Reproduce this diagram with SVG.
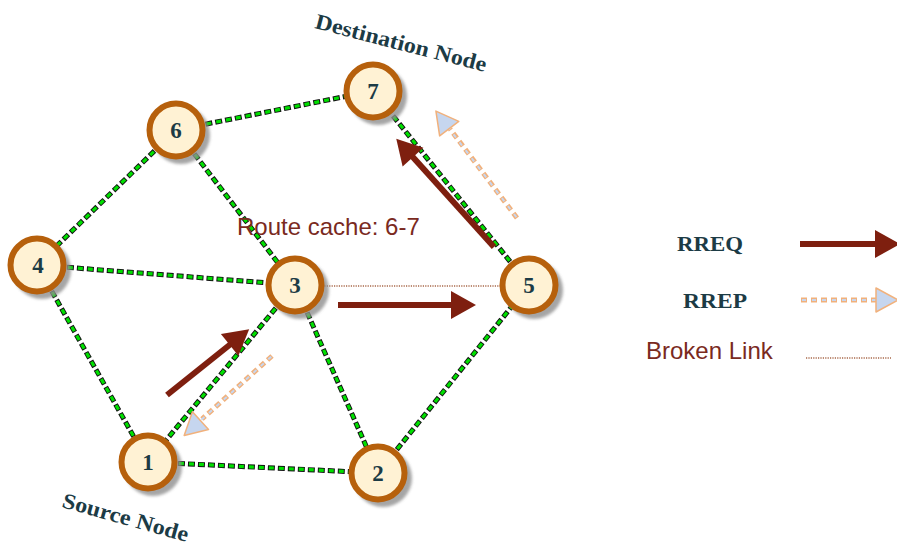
<svg xmlns="http://www.w3.org/2000/svg" width="897" height="546" viewBox="0 0 897 546">
  <style>
    .link-base { stroke: #111; stroke-width: 5; stroke-dasharray: 7 3; fill: none; }
    .link-top { stroke: #00e000; stroke-width: 3.2; stroke-dasharray: 5 5; stroke-dashoffset: -1; fill: none; }
    .broken { stroke: #a8684a; stroke-width: 1.6; stroke-dasharray: 1.2 1.2; fill: none; }
    .rreq { stroke: #7e1f0f; stroke-width: 6; fill: none; marker-end: url(#rreqHead); }
    .rrep-out { stroke: #f1b17c; stroke-width: 5; stroke-dasharray: 6 4; fill: none; }
    .rrep-in { stroke: #c6d6ef; stroke-width: 2; stroke-dasharray: 4 6; stroke-dashoffset: -1; fill: none; marker-end: url(#rrepHead); }
    .ring { fill: #fff2d4; stroke: #b6600c; stroke-width: 6; }
    .shadow { fill: #8f8f8f; opacity: 0.8; filter: url(#soft); }
    .num { font-family: "Liberation Serif", "DejaVu Serif", serif; font-weight: bold; font-size: 23px; fill: #1c3b45; text-anchor: middle; }
    .tag { font-family: "Liberation Serif", "DejaVu Serif", serif; font-weight: bold; font-size: 22px; fill: #1c3b45; }
    .note { font-family: "Liberation Sans", Arial, sans-serif; font-size: 24px; fill: #7a2a1e; }
  </style>
  <defs>
    <filter id="soft" x="-20%" y="-20%" width="140%" height="140%">
      <feGaussianBlur stdDeviation="1.5"/>
    </filter>
    <marker id="rreqHead" markerUnits="userSpaceOnUse" markerWidth="26" markerHeight="30" refX="3" refY="14" orient="auto" overflow="visible">
      <path d="M0,0 L25,14 L0,28 Z" fill="#7e1f0f"/>
    </marker>
    <marker id="rrepHead" markerUnits="userSpaceOnUse" markerWidth="24" markerHeight="26" refX="2" refY="12" orient="auto" overflow="visible">
      <path d="M0,0 L22,12 L0,24 Z" fill="#c6d6ef" stroke="#f1b17c" stroke-width="1.5" stroke-linejoin="round"/>
    </marker>
  </defs>

  <!-- wireless links between nodes -->
  <g id="connectors">
    <g id="links-base">
      <line class="link-base" x1="176" y1="130" x2="373" y2="91"/>
      <line class="link-base" x1="176" y1="130" x2="37" y2="265"/>
      <line class="link-base" x1="176" y1="130" x2="295" y2="285"/>
      <line class="link-base" x1="37" y1="265" x2="295" y2="285"/>
      <line class="link-base" x1="37" y1="265" x2="148" y2="462"/>
      <line class="link-base" x1="295" y1="285" x2="148" y2="462"/>
      <line class="link-base" x1="295" y1="285" x2="378" y2="473"/>
      <line class="link-base" x1="148" y1="462" x2="378" y2="473"/>
      <line class="link-base" x1="378" y1="473" x2="529" y2="285"/>
      <line class="link-base" x1="529" y1="285" x2="373" y2="91"/>
    </g>
    <g id="links-top">
      <line class="link-top" x1="176" y1="130" x2="373" y2="91"/>
      <line class="link-top" x1="176" y1="130" x2="37" y2="265"/>
      <line class="link-top" x1="176" y1="130" x2="295" y2="285"/>
      <line class="link-top" x1="37" y1="265" x2="295" y2="285"/>
      <line class="link-top" x1="37" y1="265" x2="148" y2="462"/>
      <line class="link-top" x1="295" y1="285" x2="148" y2="462"/>
      <line class="link-top" x1="295" y1="285" x2="378" y2="473"/>
      <line class="link-top" x1="148" y1="462" x2="378" y2="473"/>
      <line class="link-top" x1="378" y1="473" x2="529" y2="285"/>
      <line class="link-top" x1="529" y1="285" x2="373" y2="91"/>
    </g>
    <!-- broken link 3-5 -->
    <line class="broken" x1="322" y1="286" x2="502" y2="286"/>
  </g>

  <!-- nodes -->
  <g id="node-7">
    <circle class="shadow" cx="378" cy="96" r="29"/>
    <circle class="ring" cx="373" cy="91" r="26.5"/>
    <text class="num" x="373" y="99">7</text>
  </g>
  <g id="node-6">
    <circle class="shadow" cx="181" cy="135" r="29"/>
    <circle class="ring" cx="176" cy="130" r="26.5"/>
    <text class="num" x="176" y="138">6</text>
  </g>
  <g id="node-4">
    <circle class="shadow" cx="42" cy="270" r="29"/>
    <circle class="ring" cx="37" cy="265" r="26.5"/>
    <text class="num" x="38" y="273">4</text>
  </g>
  <g id="node-3">
    <circle class="shadow" cx="300" cy="290" r="29"/>
    <circle class="ring" cx="295" cy="285" r="26.5"/>
    <text class="num" x="295" y="293">3</text>
  </g>
  <g id="node-5">
    <circle class="shadow" cx="534" cy="290" r="29"/>
    <circle class="ring" cx="529" cy="285" r="26.5"/>
    <text class="num" x="529" y="293">5</text>
  </g>
  <g id="node-1">
    <circle class="shadow" cx="153" cy="467" r="29"/>
    <circle class="ring" cx="148" cy="462" r="26.5"/>
    <text class="num" x="148" y="470">1</text>
  </g>
  <g id="node-2">
    <circle class="shadow" cx="383" cy="478" r="29"/>
    <circle class="ring" cx="378" cy="473" r="26.5"/>
    <text class="num" x="378" y="481">2</text>
  </g>

  <!-- route request / reply arrows -->
  <g id="messages">
    <line class="rreq" x1="167" y1="395" x2="232" y2="343"/>
    <line class="rreq" x1="338" y1="305" x2="454" y2="305"/>
    <line class="rreq" x1="494" y1="247" x2="411" y2="155"/>
    <line class="rrep-out" x1="272" y1="356" x2="202" y2="419"/>
    <line class="rrep-in" x1="272" y1="356" x2="199" y2="422"/>
    <line class="rrep-out" x1="517" y1="218" x2="450" y2="129"/>
    <line class="rrep-in" x1="517" y1="218" x2="448" y2="127"/>
  </g>

  <!-- labels -->
  <text class="tag" transform="translate(314,28) rotate(14.4)" textLength="176" lengthAdjust="spacingAndGlyphs">Destination Node</text>
  <text class="tag" transform="translate(61,507) rotate(15.6)" textLength="130" lengthAdjust="spacingAndGlyphs">Source Node</text>
  <text class="note" x="237" y="235">Route cache: 6-7</text>

  <!-- legend -->
  <g id="legend">
    <text class="tag" x="710" y="251" text-anchor="middle" textLength="66" lengthAdjust="spacingAndGlyphs">RREQ</text>
    <line class="rreq" x1="800" y1="244" x2="878" y2="244"/>
    <text class="tag" x="715" y="308" text-anchor="middle" textLength="64" lengthAdjust="spacingAndGlyphs">RREP</text>
    <line class="rrep-out" x1="801" y1="300" x2="880" y2="300"/>
    <line class="rrep-in" x1="801" y1="300" x2="878" y2="300"/>
    <text class="note" x="646" y="359">Broken Link</text>
    <line class="broken" x1="806" y1="358" x2="891" y2="358"/>
  </g>
</svg>
